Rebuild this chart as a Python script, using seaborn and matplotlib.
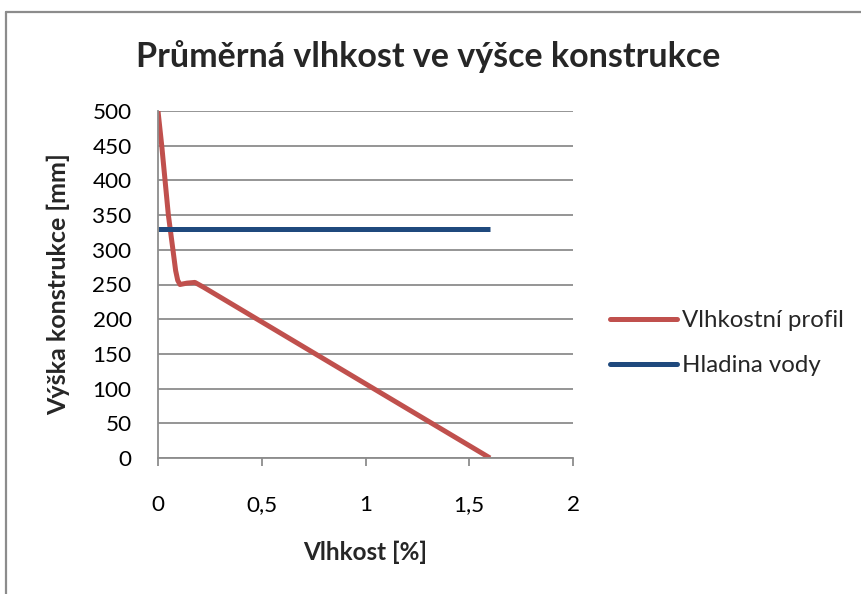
import matplotlib
matplotlib.use("Agg")
import matplotlib.pyplot as plt
import seaborn as sns
import pandas as pd
from matplotlib.lines import Line2D

# Data
profile_moisture = [0.0, 0.018, 0.034, 0.05, 0.072, 0.085, 0.095, 0.106, 0.14, 0.178, 0.22, 1.6]
profile_height = [500, 450, 400, 350, 300, 270, 256, 250, 252, 253, 246, 0]
water_moisture = [0.0, 1.6]
water_height = [330, 330]

x_ticks = [0, 0.5, 1, 1.5, 2]
x_tick_labels = ["0", "0,5", "1", "1,5", "2"]
y_ticks = list(range(0, 501, 50))

sns.set_theme(style="white")
FAM = ['Lato', 'DejaVu Sans']
plt.rcParams['font.family'] = FAM

W, H = 861, 594
fig = plt.figure(figsize=(W / 100, H / 100), dpi=100)
renderer = fig.canvas.get_renderer()


def fit_size(text, target_px, weight="normal", rotation=0):
    t = fig.text(0, 0, text, fontsize=10, fontweight=weight, rotation=rotation)
    bb = t.get_window_extent(renderer=renderer)
    size = bb.height if rotation == 90 else bb.width
    t.remove()
    return 10 * target_px / size


ax = fig.add_axes([158 / W, 1 - 458 / H, (573 - 158) / W, (458 - 111) / H])

df1 = pd.DataFrame({"x": profile_moisture, "y": profile_height})
df2 = pd.DataFrame({"x": water_moisture, "y": water_height})
sns.lineplot(data=df1, x="x", y="y", ax=ax, sort=False, color="#C0504D", lw=3.6,
             solid_joinstyle="round", solid_capstyle="butt", legend=False)
sns.lineplot(data=df2, x="x", y="y", ax=ax, sort=False, color="#1F497D", lw=3.6,
             solid_capstyle="butt", legend=False)

tick_fs = fit_size("500", 39)
ax.set_xlim(0, 2)
ax.set_ylim(0, 500)
ax.set_xticks(x_ticks)
ax.set_xticklabels(x_tick_labels)
ax.set_yticks(y_ticks)
ax.yaxis.grid(True, color="#8C8C8C", lw=1.3)
ax.xaxis.grid(False)
for s in ["top", "right"]:
    ax.spines[s].set_visible(False)
for s in ["left", "bottom"]:
    ax.spines[s].set_color("#8C8C8C")
    ax.spines[s].set_linewidth(1.3)
ax.tick_params(axis="x", direction="out", length=5.5, width=1.3, color="#8C8C8C",
               pad=21, labelsize=tick_fs, bottom=True, labelcolor="black")
ax.tick_params(axis="y", length=0, pad=19, labelsize=tick_fs, labelcolor="black")
ax.set_xlabel("")
ax.set_ylabel("")

title = "Průměrná vlhkost ve výšce konstrukce"
fig.text(428 / W, 1 - 57 / H, title, ha="center", va="center",
         fontsize=fit_size(title, 587, "bold"), fontweight="bold")
xl = "Vlhkost [%]"
fig.text(365 / W, 1 - 552 / H, xl, ha="center", va="center",
         fontsize=fit_size(xl, 124, "bold"), fontweight="bold")
yl = "Výška konstrukce [mm]"
fig.text(58 / W, 1 - 284 / H, yl, ha="center", va="center", rotation=90,
         fontsize=fit_size(yl, 262, "bold", rotation=90), fontweight="bold")

handles = [Line2D([], [], color="#C0504D", lw=3.6, solid_capstyle="round"),
           Line2D([], [], color="#1F497D", lw=3.6, solid_capstyle="round")]
labels = ["Vlhkostní profil", "Hladina vody"]
leg_fs = fit_size(labels[0], 162)
fig.legend(handles, labels, loc="center left", bbox_to_anchor=(610 / W, 1 - 343 / H),
           frameon=False, fontsize=leg_fs, handlelength=2.8, handletextpad=0.2,
           labelspacing=1.0, borderaxespad=0, borderpad=0)

# chart area border (top and left edges visible)
fig.add_artist(Line2D([6 / W, 6 / W], [0, 1 - 12 / H], transform=fig.transFigure,
                      color="#8C8C8C", lw=1.6))
fig.add_artist(Line2D([6 / W, 1], [1 - 12 / H, 1 - 12 / H], transform=fig.transFigure,
                      color="#8C8C8C", lw=1.6))

fig.savefig("out.png", dpi=100)
